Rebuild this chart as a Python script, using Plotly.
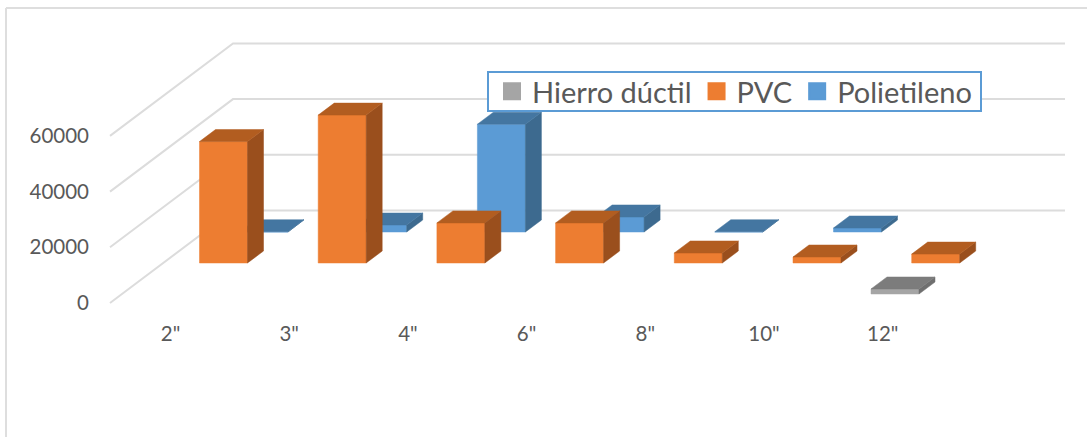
import plotly.graph_objects as go

# ---- data ----
categories = ['2"', '3"', '4"', '6"', '8"', '10"', '12"']
hierro = [None, None, None, None, None, None, 1800]
pvc = [43600, 53100, 14400, 14400, 3600, 2150, 3200]
polietileno = [100, 2500, 38700, 5400, 100, 1440, None]
tick_values = [0, 20000, 40000, 60000]

# ---- geometry of the oblique projection ----
W, H = 1087, 437
L, B = 90, 118
PX_CAT = 118.7
PX_VAL = 55.7 / 20000
X0 = 170.5
Y0 = 303.0


def dx(px):
    return px / PX_CAT


def dy(px):
    return px / PX_VAL


BAR_W = dx(48)
DEPTH_X, DEPTH_Y = dx(16), dy(12)
WALL_X, WALL_Y = dx(123), dy(92.5)
x_idx = list(range(len(categories)))

series = [
    # name, values, front, side, top, row offset x (left edge), row base
    ("Polietileno", polietileno, "#5b9bd5", "#3d6a8f", "#4476a1", dx(240 - X0), dy(71)),
    ("PVC", pvc, "#ed7d31", "#9a4f1d", "#b25d20", dx(199.5 - X0), dy(40)),
    ("Hierro dúctil", hierro, "#a5a5a5", "#6f6f6f", "#7c7c7c", dx(158.8 - X0), dy(9)),
]

fig = go.Figure()

# legend entries, in the reference's order
for name, color in [("Hierro dúctil", "#a5a5a5"), ("PVC", "#ed7d31"), ("Polietileno", "#5b9bd5")]:
    fig.add_trace(go.Scatter(x=[None], y=[None], mode="markers", name=name,
                             marker=dict(symbol="square", size=16, color=color,
                                         line=dict(color=color, width=2))))

# walls and gridlines
wx, wy = [], []
x_left = -(X0 - 110) / PX_CAT
x_right = (1065 - X0) / PX_CAT
for v in tick_values:
    wx += [x_left, x_left + WALL_X, x_right, None]
    wy += [v, v + WALL_Y, v + WALL_Y, None]
fig.add_trace(go.Scatter(x=wx, y=wy, mode="lines", showlegend=False, hoverinfo="skip",
                         line=dict(color="#dcdcdc", width=2)))


def poly(xs, ys, color):
    fig.add_trace(go.Scatter(x=xs, y=ys, mode="lines", fill="toself", fillcolor=color,
                             showlegend=False, hoverinfo="skip",
                             line=dict(color=color, width=0.5)))


for name, values, front, side, top, off, base in series:
    fx, fy, sx, sy, tx, ty = [], [], [], [], [], []
    for i, v in zip(x_idx, values):
        if v is None:
            continue
        a = i + off
        b = a + BAR_W
        t = base + v
        fx += [a, b, b, a, a, None]
        fy += [base, base, t, t, base, None]
        sx += [b, b + DEPTH_X, b + DEPTH_X, b, b, None]
        sy += [base, base + DEPTH_Y, t + DEPTH_Y, t, base, None]
        tx += [a, b, b + DEPTH_X, a + DEPTH_X, a, None]
        ty += [t, t, t + DEPTH_Y, t + DEPTH_Y, t, None]
    poly(fx, fy, front)
    poly(sx, sy, side)
    poly(tx, ty, top)

plot_w = W - L
plot_h = H - B


def px(v):
    return (v - L) / plot_w


def py(v):
    return 1 - v / plot_h


frame = dict(type="line", xref="paper", yref="paper", line=dict(color="#dedede", width=2))
fig.update_layout(
    width=W, height=H,
    margin=dict(l=L, r=0, t=0, b=B, pad=0),
    paper_bgcolor="white", plot_bgcolor="white",
    font=dict(family="Lato", color="#595959"),
    shapes=[
        dict(frame, x0=px(6), x1=px(6), y0=py(8), y1=py(437)),
        dict(frame, x0=px(6), x1=px(1087), y0=py(8), y1=py(8)),
        dict(type="rect", xref="paper", yref="paper", layer="above",
             x0=px(488), x1=px(981), y0=py(72), y1=py(111), fillcolor="white",
             line=dict(color="#5b9bd5", width=2)),
    ],
    xaxis=dict(range=[(L - X0) / PX_CAT, (W - X0) / PX_CAT], tickmode="array",
               tickvals=x_idx, ticktext=categories, showgrid=False, zeroline=False,
               showline=False, ticks="", tickfont=dict(size=20.5, color="#595959")),
    yaxis=dict(range=[-(H - B - Y0) / PX_VAL, Y0 / PX_VAL], tickmode="array",
               tickvals=tick_values, ticktext=[str(v) for v in tick_values],
               showgrid=False, zeroline=False, showline=False, ticks="",
               tickfont=dict(size=20.5, color="#595959")),
    legend=dict(orientation="h", x=px(492), y=py(66), xanchor="left", yanchor="top",
                bgcolor="rgba(0,0,0,0)", borderwidth=0,
                font=dict(size=29, color="#595959"), itemsizing="trace", itemwidth=30),
)

fig.write_html("out.html", config=dict(displayModeBar=False),
               post_script="document.body.style.margin='0';")
